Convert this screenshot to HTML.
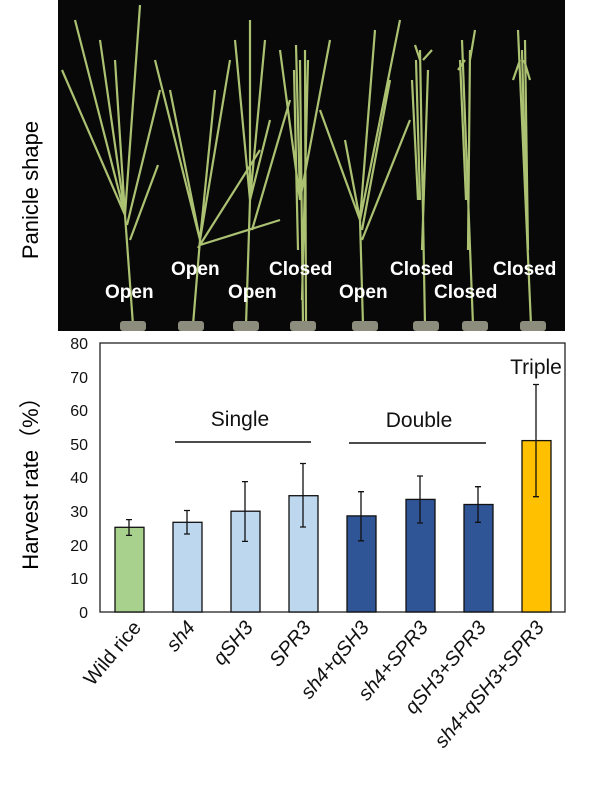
<!DOCTYPE html>
<html><head><style>body{margin:0;background:#fff}svg{display:block}</style></head><body>
<svg width="600" height="797" xmlns="http://www.w3.org/2000/svg" font-family="Liberation Sans, Arial, sans-serif">
<rect x="58" y="0" width="507" height="331" fill="#080808"/>
<g stroke="#b5cc78" stroke-width="2.2" fill="none" opacity="0.95">
<path d="M133 325 L125 215 L140 5 M125 215 L62 70 M125 215 L75 20 M125 215 L100 40 M127 225 L160 90 M130 240 L158 165 M125 215 L115 60"/>
<path d="M193 325 L200 240 L230 60 M200 240 L155 60 M200 240 L170 90 M198 248 L260 150 M200 245 L280 220 M200 240 L215 90"/>
<path d="M246 325 L250 200 L250 20 M250 200 L235 40 M250 200 L265 40 M252 230 L290 100 M250 200 L270 120"/>
<path d="M303 325 L300 60 M300 200 L330 40 M300 200 L280 50 M300 200 L296 45 M306 325 L305 50 M302 300 L308 60 M298 250 L294 70"/>
<path d="M363 325 L360 220 L375 30 M360 220 L320 110 M360 220 L400 20 M362 240 L410 120 M362 230 L390 80 M360 220 L345 140"/>
<path d="M425 325 L420 50 M420 60 L415 45 M423 60 L432 50 M418 200 L412 80 M422 250 L428 70 M420 200 L416 60"/>
<path d="M473 325 L462 40 M465 60 L458 70 M470 60 L475 30 M468 250 L470 50 M466 200 L460 60"/>
<path d="M531 325 L518 30 M520 60 L513 80 M524 60 L530 80 M528 250 L525 40 M526 200 L522 50"/>
</g>
<g fill="#8d8d7d"><rect x="120" y="321" width="26" height="10" rx="3"/><rect x="178" y="321" width="26" height="10" rx="3"/><rect x="233" y="321" width="26" height="10" rx="3"/><rect x="290" y="321" width="26" height="10" rx="3"/><rect x="352" y="321" width="26" height="10" rx="3"/><rect x="413" y="321" width="26" height="10" rx="3"/><rect x="462" y="321" width="26" height="10" rx="3"/><rect x="520" y="321" width="26" height="10" rx="3"/></g>
<g fill="#fff" font-size="19" font-weight="bold">
<text x="105" y="298">Open</text><text x="171" y="275">Open</text><text x="228" y="298">Open</text><text x="269" y="275">Closed</text><text x="339" y="298">Open</text><text x="390" y="275">Closed</text><text x="434" y="298">Closed</text><text x="493" y="275">Closed</text>
</g>
<text transform="translate(38,190) rotate(-90)" text-anchor="middle" font-size="22">Panicle shape</text>
<text transform="translate(38,478) rotate(-90)" text-anchor="middle" font-size="22">Harvest rate（%）</text>
<rect x="100" y="343" width="465" height="269" fill="none" stroke="#222" stroke-width="1.3"/>
<g font-size="16" text-anchor="end" fill="#111">
<text x="88" y="618">0</text><text x="88" y="584">10</text><text x="88" y="551">20</text><text x="88" y="517">30</text><text x="88" y="483">40</text><text x="88" y="450">50</text><text x="88" y="416">60</text><text x="88" y="383">70</text><text x="88" y="349">80</text>
</g>
<g stroke="#111" stroke-width="1.3">
<rect x="115" y="527.3" width="29" height="84.7" fill="#a9d18e"/>
<rect x="173" y="522.3" width="29" height="89.7" fill="#bdd7ee"/>
<rect x="231" y="511.2" width="29" height="100.8" fill="#bdd7ee"/>
<rect x="289" y="495.7" width="29" height="116.3" fill="#bdd7ee"/>
<rect x="347" y="515.9" width="29" height="96.1" fill="#2f5597"/>
<rect x="406" y="499.4" width="29" height="112.6" fill="#2f5597"/>
<rect x="464" y="504.5" width="29" height="107.5" fill="#2f5597"/>
<rect x="522" y="440.6" width="29" height="171.4" fill="#ffc000"/>
</g>
<g stroke="#111" stroke-width="1.3">
<path d="M129 535.4V519.6M126 535.4h6M126 519.6h6"/>
<path d="M187 534V510.5M184 534h6M184 510.5h6"/>
<path d="M245 541.4V481.6M242 541.4h6M242 481.6h6"/>
<path d="M303 527V463.5M300 527h6M300 463.5h6"/>
<path d="M361 540.8V491.7M358 540.8h6M358 491.7h6"/>
<path d="M420 523V476M417 523h6M417 476h6"/>
<path d="M478 522.3V486.7M475 522.3h6M475 486.7h6"/>
<path d="M536 496.7V384.5M533 496.7h6M533 384.5h6"/>
</g>
<g stroke="#111" stroke-width="1.6"><line x1="175" y1="442" x2="311" y2="442"/><line x1="349" y1="443" x2="486" y2="443"/></g>
<g font-size="21" text-anchor="middle" fill="#111"><text x="240" y="426">Single</text><text x="419" y="427">Double</text><text x="536" y="374">Triple</text></g>
<g font-size="20" text-anchor="end" fill="#111">
<text transform="translate(142,628) rotate(-50)">Wild rice</text>
<text font-style="italic" transform="translate(196,628) rotate(-50)">sh4</text>
<text font-style="italic" transform="translate(254,628) rotate(-50)">qSH3</text>
<text font-style="italic" transform="translate(312,628) rotate(-50)">SPR3</text>
<text font-style="italic" transform="translate(370,628) rotate(-50)">sh4+qSH3</text>
<text font-style="italic" transform="translate(429,628) rotate(-50)">sh4+SPR3</text>
<text font-style="italic" transform="translate(487,628) rotate(-50)">qSH3+SPR3</text>
<text font-style="italic" transform="translate(545,628) rotate(-50)">sh4+qSH3+SPR3</text>
</g>
</svg>
</body></html>
